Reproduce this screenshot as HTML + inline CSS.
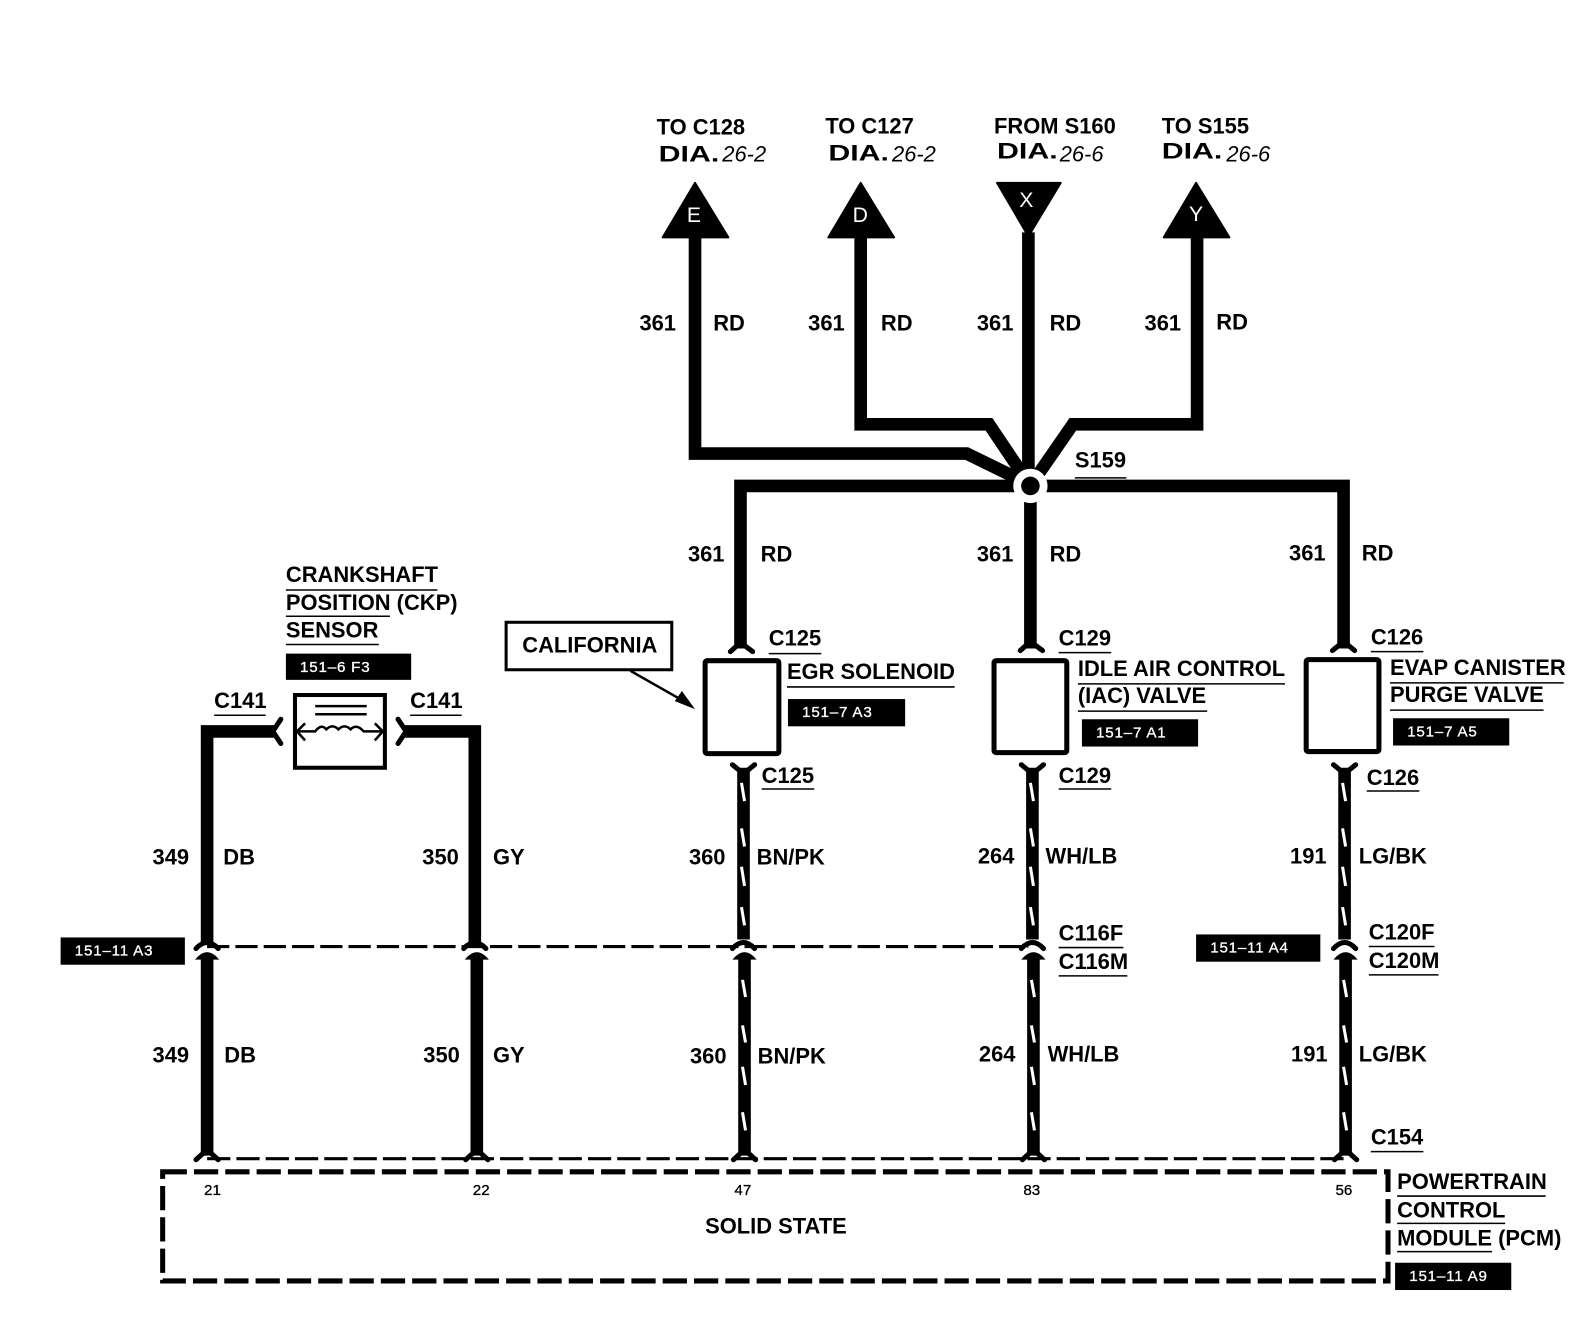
<!DOCTYPE html>
<html><head><meta charset="utf-8"><style>
html,body{margin:0;padding:0;background:#fff}
svg{display:block}
text{font-family:"Liberation Sans",sans-serif;font-weight:bold;font-size:21.7px;fill:#000}
.w{fill:none;stroke:#000;stroke-width:12.5;stroke-linejoin:miter}
.f{fill:none;stroke:#000;stroke-width:5;stroke-linecap:round;stroke-linejoin:round}
.u{stroke:#000;stroke-width:1.5}
.t{stroke:#fff;stroke-width:3}
.b{font-size:15px;font-weight:normal;fill:#fff;stroke:#fff;stroke-width:.3;letter-spacing:.8px}
.p{font-size:15px;font-weight:normal;stroke:#000;stroke-width:.3}
.d{stroke:#000;fill:none}
</style></head><body>
<svg width="1584" height="1328" viewBox="0 0 1568 1314.6" xmlns="http://www.w3.org/2000/svg">
<!-- top wires -->
<path class="w" d="M688 230V449H957L1008 474"/>
<path class="w" d="M852 230V420H979L1014 472"/>
<path class="w" d="M1018 230V474"/>
<path class="w" d="M1185 230V420H1062L1026 472"/>
<path class="w" d="M733 642V481H1330V642"/>
<path class="w" d="M1020 481V642"/>
<circle cx="1020" cy="481" r="17" fill="#fff"/>
<circle cx="1020" cy="481" r="9.2" fill="#000"/>
<!-- triangles -->
<polygon points="688,181 721,235 656,235" fill="#000" stroke="#000" stroke-width="2" stroke-linejoin="round"/>
<polygon points="852,181 885,235 820,235" fill="#000" stroke="#000" stroke-width="2" stroke-linejoin="round"/>
<polygon points="987,181 1050,181 1018,234" fill="#000" stroke="#000" stroke-width="2" stroke-linejoin="round"/>
<polygon points="1184,181 1217,235 1152,235" fill="#000" stroke="#000" stroke-width="2" stroke-linejoin="round"/>
<text x="680" y="220" style="fill:#fff;font-weight:normal;font-size:21px">E</text>
<text x="844" y="220" style="fill:#fff;font-weight:normal;font-size:21px">D</text>
<text x="1009" y="205" style="fill:#fff;font-weight:normal;font-size:21px">X</text>
<text x="1177" y="219" style="fill:#fff;font-weight:normal;font-size:21px">Y</text>
<!-- top labels -->
<text x="650" y="133">TO C128</text>
<text x="817" y="132">TO C127</text>
<text x="984" y="132">FROM S160</text>
<text x="1150" y="132">TO S155</text>
<g>
<text x="652" y="160" textLength="60" lengthAdjust="spacingAndGlyphs">DIA.</text><text x="715" y="160" style="font-weight:normal;font-style:italic">26-2</text>
<text x="820" y="159" textLength="60" lengthAdjust="spacingAndGlyphs">DIA.</text><text x="883" y="160" style="font-weight:normal;font-style:italic">26-2</text>
<text x="987" y="157" textLength="60" lengthAdjust="spacingAndGlyphs">DIA.</text><text x="1049" y="160" style="font-weight:normal;font-style:italic">26-6</text>
<text x="1150" y="157" textLength="60" lengthAdjust="spacingAndGlyphs">DIA.</text><text x="1214" y="160" style="font-weight:normal;font-style:italic">26-6</text>
</g>
<text x="633" y="327">361</text><text x="706" y="327">RD</text>
<text x="800" y="327">361</text><text x="872" y="327">RD</text>
<text x="967" y="327">361</text><text x="1039" y="327">RD</text>
<text x="1133" y="327">361</text><text x="1204" y="326">RD</text>
<text x="1064" y="463">S159</text><line class="u" x1="1064" y1="473" x2="1115" y2="473"/>
<text x="681" y="556">361</text><text x="753" y="556">RD</text>
<text x="967" y="556">361</text><text x="1039" y="556">RD</text>
<text x="1276" y="555">361</text><text x="1348" y="555">RD</text>
<!-- upper forks -->
<path class="f" d="M723 645L733 636L745 645"/>
<path class="f" d="M1010 644L1020 635L1032 644"/>
<path class="f" d="M1319 644L1330 635L1341 644"/>
<!-- devices -->
<rect x="698" y="654" width="73" height="92" rx="2" fill="#fff" stroke="#000" stroke-width="5"/>
<rect x="984" y="654" width="72" height="91" rx="2" fill="#fff" stroke="#000" stroke-width="5"/>
<rect x="1293" y="653" width="72" height="91" rx="2" fill="#fff" stroke="#000" stroke-width="5"/>
<text x="761" y="639">C125</text><line class="u" x1="761" y1="647" x2="813" y2="647"/>
<text x="1048" y="639">C129</text><line class="u" x1="1048" y1="646" x2="1100" y2="646"/>
<text x="1357" y="638">C126</text><line class="u" x1="1357" y1="645" x2="1409" y2="645"/>
<text x="779" y="672">EGR SOLENOID</text><line class="u" x1="779" y1="680" x2="945" y2="680"/>
<text x="1067" y="669">IDLE AIR CONTROL</text><line class="u" x1="1067" y1="677" x2="1272" y2="677"/>
<text x="1067" y="696">(IAC) VALVE</text><line class="u" x1="1067" y1="704" x2="1195" y2="704"/>
<text x="1376" y="668">EVAP CANISTER</text><line class="u" x1="1376" y1="676" x2="1548" y2="676"/>
<text x="1376" y="695">PURGE VALVE</text><line class="u" x1="1376" y1="703" x2="1528" y2="703"/>
<rect x="780" y="692" width="116" height="27" fill="#000"/><text class="b" x="794" y="710">151–7 A3</text>
<rect x="1071" y="712" width="115" height="27" fill="#000"/><text class="b" x="1085" y="730">151–7 A1</text>
<rect x="1379" y="711" width="115" height="27" fill="#000"/><text class="b" x="1393" y="729">151–7 A5</text>
<!-- california -->
<rect x="501" y="616" width="164" height="47" fill="#fff" stroke="#000" stroke-width="3"/>
<text x="517" y="646">CALIFORNIA</text>
<line x1="624" y1="664" x2="675" y2="693" stroke="#000" stroke-width="2.5"/>
<polygon points="688,702 668,694 675,684" fill="#000"/>
<!-- crankshaft -->
<text x="283" y="576">CRANKSHAFT</text><line class="u" x1="283" y1="584" x2="433" y2="584"/>
<text x="283" y="604">POSITION (CKP)</text><line class="u" x1="283" y1="610" x2="386" y2="610"/>
<text x="283" y="631">SENSOR</text><line class="u" x1="283" y1="638" x2="375" y2="638"/>
<rect x="283" y="647" width="124" height="26" fill="#000"/><text class="b" x="297" y="665">151–6 F3</text>
<text x="212" y="701">C141</text><line class="u" x1="212" y1="708" x2="263" y2="708"/>
<text x="406" y="701">C141</text><line class="u" x1="406" y1="708" x2="457" y2="708"/>
<rect x="292" y="688" width="89" height="72" fill="#fff" stroke="#000" stroke-width="4"/>
<line x1="312" y1="699" x2="363" y2="699" stroke="#000" stroke-width="2.5"/>
<line x1="312" y1="707" x2="363" y2="707" stroke="#000" stroke-width="2.5"/>
<path d="M294 724H312Q318 716 323 722Q329 716 335 722Q341 716 347 722Q353 716 360 724H379" fill="none" stroke="#000" stroke-width="2.5"/>
<path d="M302 716L294 724L302 733M371 716L379 724L371 733" fill="none" stroke="#000" stroke-width="2.5"/>
<!-- sensor wires -->
<path class="w" d="M272 724H205V932"/>
<path class="w" d="M400 724H470V932"/>
<path class="f" d="M278 712L270 724L278 736"/>
<path class="f" d="M394 712L402 724L394 736"/>
<!-- dashed C1xx -->
<line class="d" x1="205" y1="937" x2="1018" y2="937" stroke-width="3" stroke-dasharray="22 6"/>
<!-- lower wires upper half -->
<path class="w" d="M736 760V930"/>
<path class="w" d="M1022 760V930"/>
<path class="w" d="M1331 760V930"/>
<path class="f" d="M725 757L736 766L747 757"/>
<path class="f" d="M1011 757L1022 766L1033 757"/>
<path class="f" d="M1320 757L1331 766L1342 757"/>
<!-- forks at the dashed line -->
<path class="f" d="M194 939Q205 927 216 939"/><path class="f" d="M459 939Q470 927 481 939"/>
<path class="f" d="M725 939Q736 927 747 939"/><path class="f" d="M1011 939Q1022 927 1033 939"/><path class="f" d="M1320 939Q1331 927 1342 939"/>
<!-- lower half -->
<path class="w" d="M205 946V1144"/><path class="w" d="M472 946V1144"/><path class="w" d="M737 946V1144"/><path class="w" d="M1023 946V1144"/><path class="w" d="M1332 946V1144"/>
<path d="M193 950Q205 935 217 950Z" fill="#000"/><path d="M460 950Q472 935 484 950Z" fill="#000"/><path d="M725 950Q737 935 749 950Z" fill="#000"/><path d="M1011 950Q1023 935 1035 950Z" fill="#000"/><path d="M1320 950Q1332 935 1344 950Z" fill="#000"/>
<path class="f" d="M194 1148L205 1138L216 1148"/><path class="f" d="M461 1148L472 1138L483 1148"/><path class="f" d="M726 1148L737 1138L748 1148"/><path class="f" d="M1012 1148L1023 1138L1034 1148"/><path class="f" d="M1321 1148L1332 1138L1343 1148"/>
<!-- white stripes -->
<g class="t">
<line x1="734" y1="775" x2="737" y2="793"/><line x1="734" y1="820" x2="737" y2="838"/><line x1="734" y1="858" x2="737" y2="877"/><line x1="734" y1="898" x2="737" y2="916"/>
<line x1="735" y1="970" x2="738" y2="987"/><line x1="735" y1="1015" x2="738" y2="1032"/><line x1="735" y1="1056" x2="738" y2="1074"/><line x1="735" y1="1101" x2="738" y2="1119"/>
<line x1="1020" y1="775" x2="1023" y2="793"/><line x1="1020" y1="820" x2="1023" y2="838"/><line x1="1020" y1="858" x2="1023" y2="877"/><line x1="1020" y1="898" x2="1023" y2="916"/>
<line x1="1021" y1="970" x2="1024" y2="987"/><line x1="1021" y1="1015" x2="1024" y2="1032"/><line x1="1021" y1="1056" x2="1024" y2="1074"/><line x1="1021" y1="1101" x2="1024" y2="1119"/>
<line x1="1329" y1="775" x2="1332" y2="793"/><line x1="1329" y1="820" x2="1332" y2="838"/><line x1="1329" y1="858" x2="1332" y2="877"/><line x1="1329" y1="898" x2="1332" y2="916"/>
<line x1="1330" y1="970" x2="1333" y2="987"/><line x1="1330" y1="1015" x2="1333" y2="1032"/><line x1="1330" y1="1056" x2="1333" y2="1074"/><line x1="1330" y1="1101" x2="1333" y2="1119"/>
</g>
<!-- labels lower -->
<text x="754" y="775">C125</text><line class="u" x1="754" y1="781" x2="806" y2="781"/>
<text x="1048" y="775">C129</text><line class="u" x1="1048" y1="781" x2="1100" y2="781"/>
<text x="1353" y="777">C126</text><line class="u" x1="1353" y1="783" x2="1405" y2="783"/>
<text x="151" y="856">349</text><text x="221" y="856">DB</text>
<text x="418" y="856">350</text><text x="488" y="856">GY</text>
<text x="682" y="856">360</text><text x="749" y="856">BN/PK</text>
<text x="968" y="855">264</text><text x="1035" y="855">WH/LB</text>
<text x="1277" y="855">191</text><text x="1345" y="855">LG/BK</text>
<text x="151" y="1052">349</text><text x="222" y="1052">DB</text>
<text x="419" y="1052">350</text><text x="488" y="1052">GY</text>
<text x="683" y="1053">360</text><text x="750" y="1053">BN/PK</text>
<text x="969" y="1051">264</text><text x="1037" y="1051">WH/LB</text>
<text x="1278" y="1051">191</text><text x="1345" y="1051">LG/BK</text>
<rect x="60" y="928" width="123" height="27" fill="#000"/><text class="b" x="74" y="946">151–11 A3</text>
<rect x="1184" y="925" width="123" height="27" fill="#000"/><text class="b" x="1198" y="943">151–11 A4</text>
<text x="1048" y="931">C116F</text><line class="u" x1="1048" y1="938" x2="1112" y2="938"/>
<text x="1048" y="959">C116M</text><line class="u" x1="1048" y1="966" x2="1116" y2="966"/>
<text x="1355" y="930">C120F</text><line class="u" x1="1355" y1="937" x2="1420" y2="937"/>
<text x="1355" y="958">C120M</text><line class="u" x1="1355" y1="965" x2="1424" y2="965"/>
<text x="1357" y="1133">C154</text><line class="u" x1="1357" y1="1140" x2="1409" y2="1140"/>
<!-- pcm -->
<line class="d" x1="205" y1="1147" x2="1332" y2="1147" stroke-width="3" stroke-dasharray="23 6"/>
<rect x="161" y="1160" width="1213" height="108" class="d" stroke-width="5" stroke-dasharray="24 7"/>
<text class="p" x="202" y="1183">21</text><text class="p" x="468" y="1183">22</text><text class="p" x="727" y="1183">47</text><text class="p" x="1013" y="1183">83</text><text class="p" x="1322" y="1183">56</text>
<text x="698" y="1221">SOLID STATE</text>
<text x="1383" y="1177">POWERTRAIN</text><line class="u" x1="1383" y1="1184" x2="1530" y2="1184"/>
<text x="1383" y="1205">CONTROL</text><line class="u" x1="1383" y1="1211" x2="1490" y2="1211"/>
<text x="1383" y="1233">MODULE (PCM)</text><line class="u" x1="1383" y1="1239" x2="1477" y2="1239"/>
<rect x="1381" y="1250" width="115" height="27" fill="#000"/><text class="b" x="1395" y="1268">151–11 A9</text>
</svg>
</body></html>
